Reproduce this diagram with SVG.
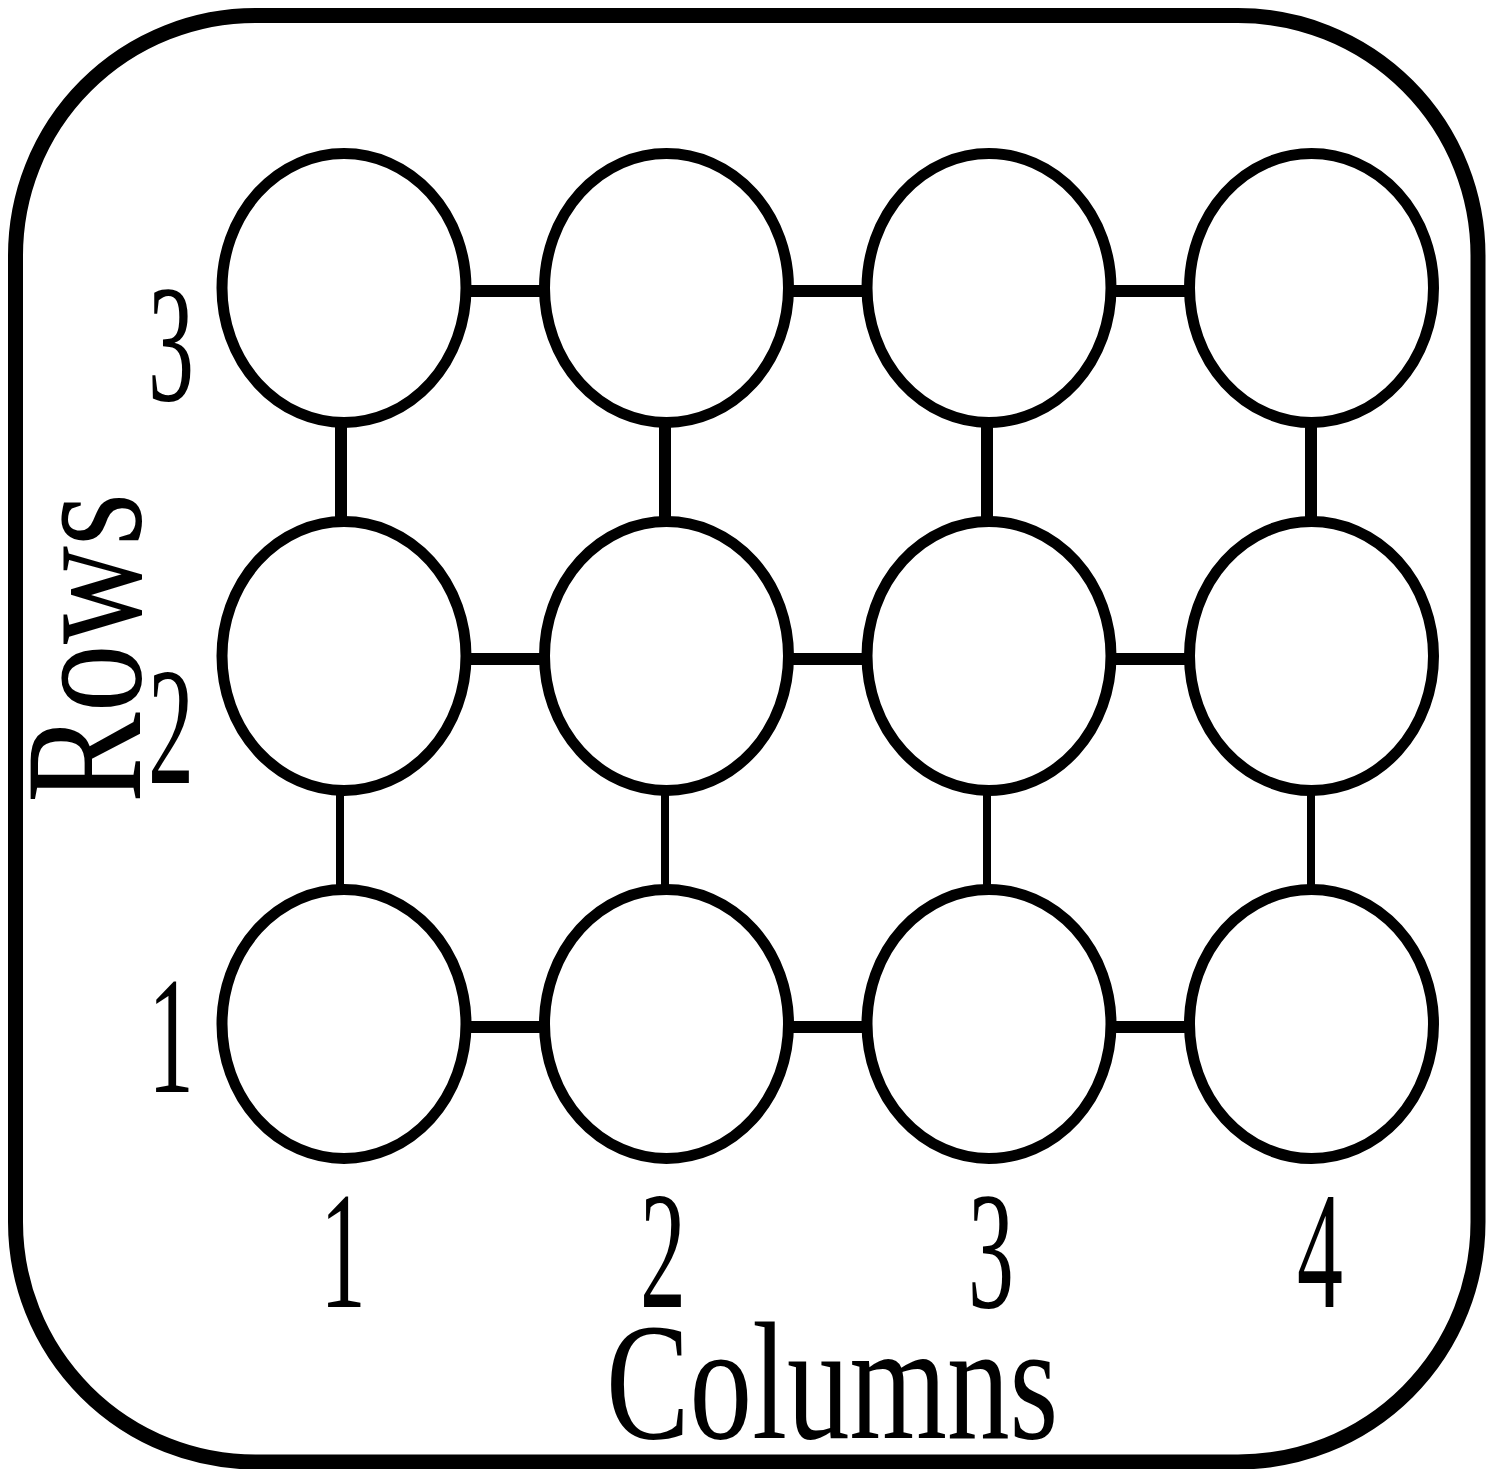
<svg xmlns="http://www.w3.org/2000/svg" width="1486" height="1469" viewBox="0 0 1486 1469">
  <style>
    .frame { fill: #fff; stroke: #000; stroke-width: 15; }
    .node { fill: #fff; stroke: #000; stroke-width: 11; }
    .link { stroke: #000; stroke-width: 12; fill: none; }
    .link.thin { stroke-width: 8; }
    .lbl { font-family: "Liberation Serif", "DejaVu Serif", serif; font-size: 167px; fill: #000; }
  </style>

  <!-- outer frame -->
  <rect class="frame" x="15.5" y="15.5" width="1462.5" height="1446.5" rx="240" ry="240"/>

  <!-- connectors -->
  <g id="connectors">
    <!-- row 3 horizontals -->
    <line class="link" x1="466" y1="291" x2="545" y2="291"/>
    <line class="link" x1="788" y1="291" x2="867" y2="291"/>
    <line class="link" x1="1111" y1="291" x2="1190" y2="291"/>
    <!-- row 2 horizontals -->
    <line class="link" x1="466" y1="659" x2="545" y2="659"/>
    <line class="link" x1="788" y1="659" x2="867" y2="659"/>
    <line class="link" x1="1111" y1="659" x2="1190" y2="659"/>
    <!-- row 1 horizontals -->
    <line class="link" x1="466" y1="1027" x2="545" y2="1027"/>
    <line class="link" x1="788" y1="1027" x2="867" y2="1027"/>
    <line class="link" x1="1111" y1="1027" x2="1190" y2="1027"/>
    <!-- row 3 to row 2 verticals -->
    <line class="link" x1="341" y1="422" x2="341" y2="522"/>
    <line class="link" x1="665" y1="422" x2="665" y2="522"/>
    <line class="link" x1="987" y1="422" x2="987" y2="522"/>
    <line class="link" x1="1311" y1="422" x2="1311" y2="522"/>
    <!-- row 2 to row 1 verticals -->
    <line class="link thin" x1="340" y1="790" x2="340" y2="890"/>
    <line class="link thin" x1="665" y1="790" x2="665" y2="890"/>
    <line class="link thin" x1="987" y1="790" x2="987" y2="890"/>
    <line class="link thin" x1="1311" y1="790" x2="1311" y2="890"/>
  </g>

  <!-- grid nodes -->
  <g id="n-3-1"><ellipse class="node" cx="344" cy="288" rx="122" ry="134.5"/></g>
  <g id="n-3-2"><ellipse class="node" cx="666.5" cy="288" rx="122" ry="134.5"/></g>
  <g id="n-3-3"><ellipse class="node" cx="989" cy="288" rx="122" ry="134.5"/></g>
  <g id="n-3-4"><ellipse class="node" cx="1311.5" cy="288" rx="122" ry="134.5"/></g>

  <g id="n-2-1"><ellipse class="node" cx="344" cy="656" rx="122" ry="134.5"/></g>
  <g id="n-2-2"><ellipse class="node" cx="666.5" cy="656" rx="122" ry="134.5"/></g>
  <g id="n-2-3"><ellipse class="node" cx="989" cy="656" rx="122" ry="134.5"/></g>
  <g id="n-2-4"><ellipse class="node" cx="1311.5" cy="656" rx="122" ry="134.5"/></g>

  <g id="n-1-1"><ellipse class="node" cx="344" cy="1024" rx="122" ry="134.5"/></g>
  <g id="n-1-2"><ellipse class="node" cx="666.5" cy="1024" rx="122" ry="134.5"/></g>
  <g id="n-1-3"><ellipse class="node" cx="989" cy="1024" rx="122" ry="134.5"/></g>
  <g id="n-1-4"><ellipse class="node" cx="1311.5" cy="1024" rx="122" ry="134.5"/></g>

  <!-- axis labels -->
  <g id="row-labels">
    <text class="lbl" text-anchor="middle" transform="translate(171 400) scale(0.55 1)">3</text>
    <text class="lbl" text-anchor="middle" transform="translate(171 783) scale(0.55 1)">2</text>
    <text class="lbl" text-anchor="middle" transform="translate(171 1092) scale(0.55 1)">1</text>
    <text class="lbl" transform="translate(140 803) rotate(-90) scale(0.815 1)">Rows</text>
  </g>
  <g id="column-labels">
    <text class="lbl" text-anchor="middle" transform="translate(343 1307) scale(0.55 1)">1</text>
    <text class="lbl" text-anchor="middle" transform="translate(663 1307) scale(0.55 1)">2</text>
    <text class="lbl" text-anchor="middle" transform="translate(991 1307) scale(0.55 1)">3</text>
    <text class="lbl" text-anchor="middle" transform="translate(1320 1307) scale(0.55 1)">4</text>
    <text class="lbl" transform="translate(606 1438) scale(0.75 1)">Columns</text>
  </g>
</svg>
